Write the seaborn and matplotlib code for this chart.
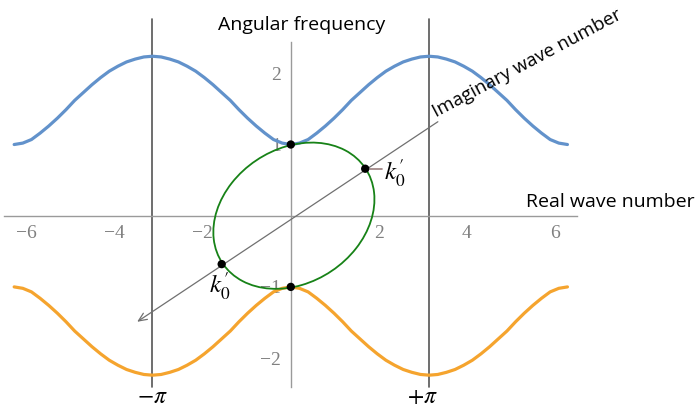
import numpy as np
import pandas as pd
import matplotlib
matplotlib.use('Agg')
import matplotlib.pyplot as plt
import seaborn as sns
from matplotlib.patches import Ellipse

# bandas, k de -2pi a 2pi
wave_number = np.linspace(-2 * np.pi, 2 * np.pi, 65)
upper_band = [1.00, 1.02, 1.07, 1.16, 1.26, 1.37, 1.49, 1.62, 1.73, 1.84, 1.94, 2.03, 2.10, 2.16, 2.20, 2.23,
              2.24, 2.23, 2.20, 2.16, 2.10, 2.03, 1.94, 1.84, 1.73, 1.62, 1.49, 1.37, 1.26, 1.16, 1.07, 1.02,
              1.00, 1.02, 1.07, 1.16, 1.26, 1.37, 1.49, 1.62, 1.73, 1.84, 1.94, 2.03, 2.10, 2.16, 2.20, 2.23,
              2.24, 2.23, 2.20, 2.16, 2.10, 2.03, 1.94, 1.84, 1.73, 1.62, 1.49, 1.37, 1.26, 1.16, 1.07, 1.02,
              1.00]
lower_band = [-1.00, -1.02, -1.07, -1.16, -1.26, -1.37, -1.49, -1.62, -1.73, -1.84, -1.94, -2.03, -2.10, -2.16, -2.20, -2.23,
              -2.24, -2.23, -2.20, -2.16, -2.10, -2.03, -1.94, -1.84, -1.73, -1.62, -1.49, -1.37, -1.26, -1.16, -1.07, -1.02,
              -1.00, -1.02, -1.07, -1.16, -1.26, -1.37, -1.49, -1.62, -1.73, -1.84, -1.94, -2.03, -2.10, -2.16, -2.20, -2.23,
              -2.24, -2.23, -2.20, -2.16, -2.10, -2.03, -1.94, -1.84, -1.73, -1.62, -1.49, -1.37, -1.26, -1.16, -1.07, -1.02,
              -1.00]

# puntos negros
dot_x = [0.0, 0.0, 1.69, -1.57]
dot_y = [1.0, -1.0, 0.66, -0.68]

# elipse verde (centro, ejes, angulo)
ellipse_center = (0.07, 0.0)
ellipse_width = 3.70
ellipse_height = 1.98
ellipse_angle = 10.1

# eje imaginario (punta de flecha y extremo)
imag_tip = (-3.49, -1.49)
imag_end = (3.34, 1.32)

x_major = [-6, -4, -2, 2, 4, 6]
y_major = [-2, -1, 1, 2]

df = pd.DataFrame({'k': wave_number, 'upper': upper_band, 'lower': lower_band})

sns.set_theme(style='white')
plt.rcParams['font.family'] = ['Open Sans', 'DejaVu Sans']
plt.rcParams['mathtext.fontset'] = 'stix'
plt.rcParams['text.color'] = 'black'

fig = plt.figure(figsize=(6.99, 4.07), dpi=100)
ax = fig.add_axes([0, 0, 1, 1])
ax.set_xlim(-6.605, 9.271)
ax.set_ylim(-2.687, 3.03)
ax.set_axisbelow(True)

gray = '#9a9a9a'
for s in ['top', 'right']:
    ax.spines[s].set_visible(False)
ax.spines['left'].set_position(('data', 0))
ax.spines['bottom'].set_position(('data', 0))
ax.spines['bottom'].set_bounds(-6.51, 6.5)
ax.spines['left'].set_bounds(-2.40, 2.44)
for s in ['left', 'bottom']:
    ax.spines[s].set_color(gray)
    ax.spines[s].set_linewidth(1.0)

ax.set_xticks(x_major)
ax.set_xticklabels([str(v).replace('-', '\u2212') for v in x_major])
ax.set_xticks([v for v in np.arange(-6.5, 6.51, 0.5) if v % 2 != 0], minor=True)
ax.set_yticks(y_major)
ax.set_yticklabels([str(v).replace('-', '\u2212') for v in y_major])
ax.set_yticks([round(v, 1) for v in np.arange(-2.4, 2.41, 0.2)
               if abs(v - round(v)) > 1e-6], minor=True)
ax.tick_params(which='both', direction='in', color=gray, width=0.8)
ax.tick_params(which='major', length=5)
ax.tick_params(which='minor', length=2.5)
ax.tick_params(axis='x', which='major', pad=7, labelsize=14, labelcolor='#808080')
ax.tick_params(axis='y', which='major', pad=7, labelsize=14, labelcolor='#808080')
for lab in ax.get_xticklabels() + ax.get_yticklabels():
    lab.set_fontfamily('Liberation Serif')

# lineas verticales en +-pi
for xv in [-np.pi, np.pi]:
    ax.plot([xv, xv], [-2.40, 2.77], color='#555555', lw=1.2, zorder=1)

sns.lineplot(data=df, x='k', y='upper', color='#6292cb', lw=2.3, ax=ax, zorder=3)
sns.lineplot(data=df, x='k', y='lower', color='#f5a42e', lw=2.3, ax=ax, zorder=3)
ax.set_xlabel('')
ax.set_ylabel('')

ax.add_patch(Ellipse(ellipse_center, ellipse_width, ellipse_height, angle=ellipse_angle,
                     fill=False, edgecolor='#178217', lw=1.3, zorder=4))

ax.annotate('', xy=imag_tip, xytext=imag_end,
            arrowprops=dict(arrowstyle='->,head_length=0.5,head_width=0.22',
                            color='#707070', lw=0.9, shrinkA=0, shrinkB=0), zorder=4)

sns.scatterplot(x=dot_x, y=dot_y, color='black', s=36, ax=ax, zorder=6, edgecolor='none')

# etiquetas k'_0
ax.plot([1.79, 2.08], [0.66, 0.66], color='#9b7f7f', lw=1.2, zorder=5)
ax.text(2.12, 0.60, r"$k^{\prime}_{0}$", fontsize=18, ha='left', va='center', zorder=6)
ax.text(-1.62, -0.99, r"$k^{\prime}_{0}$", fontsize=18, ha='center', va='center', zorder=6)

ax.text(-np.pi, -2.54, r'$-\pi$', fontsize=17, ha='center', va='center')
ax.text(np.pi - 0.15, -2.54, r'$+\pi$', fontsize=17, ha='center', va='center')

ax.text(302 / 699, 1 - 25 / 407, 'Angular frequency', fontsize=14, ha='center', va='center',
        transform=ax.transAxes)
ax.text(526 / 699, 1 - 207 / 407, 'Real wave number', fontsize=14, ha='left', va='baseline',
        transform=ax.transAxes)
ax.text(436 / 699, 1 - 117 / 407, 'Imaginary wave number', fontsize=13.5, ha='left',
        va='baseline', rotation=28, rotation_mode='anchor', transform=ax.transAxes)

fig.savefig('out.png', dpi=100)
